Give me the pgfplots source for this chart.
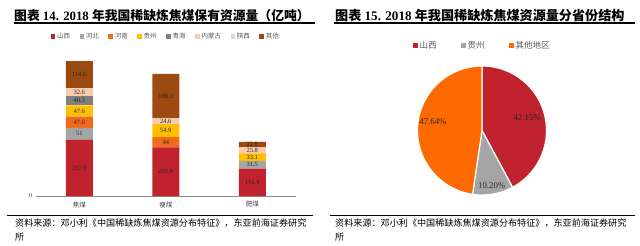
\documentclass[border=0pt]{standalone}
\usepackage{pgfplots}
\pgfplotsset{compat=1.18}
\usepackage{pgfplotstable}
\usepackage{fontspec}
\setmainfont{Liberation Serif}
\newfontfamily\cjk{Noto Sans CJK SC}

\definecolor{cSX}{HTML}{C0222E}
\definecolor{cHB}{HTML}{A5A5A5}
\definecolor{cHN}{HTML}{F26B1D}
\definecolor{cGZ}{HTML}{FFC000}
\definecolor{cQH}{HTML}{7F7F7F}
\definecolor{cNM}{HTML}{F8CBAD}
\definecolor{cSX2}{HTML}{D9D9D9}
\definecolor{cQT}{HTML}{9C4A10}
\definecolor{pSX}{HTML}{C0222E}
\definecolor{pGZ}{HTML}{A5A5A5}
\definecolor{pQT}{HTML}{FF6A00}

% columns: shanxi hebei henan guizhou qinghai neimenggu shaanxi other
\pgfplotstableread{
x sx hb hn gz qh nm sn qt
0 237.9 51 47.6 47.6 40.3 32.6 0 114.6
1 205.8 0 44 54.9 0 24.6 0 188.3
2 116.4 31.5 0 33.1 0 25.8 0 22.8
}\bardata
% label positions: middle of each stacked segment
\pgfplotstablecreatecol[create col/expr={\thisrow{sx}/2}]{msx}\bardata
\pgfplotstablecreatecol[create col/expr={\thisrow{sx}+\thisrow{hb}/2}]{mhb}\bardata
\pgfplotstablecreatecol[create col/expr={\thisrow{sx}+\thisrow{hb}+\thisrow{hn}/2}]{mhn}\bardata
\pgfplotstablecreatecol[create col/expr={\thisrow{sx}+\thisrow{hb}+\thisrow{hn}+\thisrow{gz}/2}]{mgz}\bardata
\pgfplotstablecreatecol[create col/expr={\thisrow{sx}+\thisrow{hb}+\thisrow{hn}+\thisrow{gz}+\thisrow{qh}/2}]{mqh}\bardata
\pgfplotstablecreatecol[create col/expr={\thisrow{sx}+\thisrow{hb}+\thisrow{hn}+\thisrow{gz}+\thisrow{qh}+\thisrow{nm}/2}]{mnm}\bardata
\pgfplotstablecreatecol[create col/expr={\thisrow{sx}+\thisrow{hb}+\thisrow{hn}+\thisrow{gz}+\thisrow{qh}+\thisrow{nm}+\thisrow{sn}/2}]{msn}\bardata
\pgfplotstablecreatecol[create col/expr={\thisrow{sx}+\thisrow{hb}+\thisrow{hn}+\thisrow{gz}+\thisrow{qh}+\thisrow{nm}+\thisrow{sn}+\thisrow{qt}/2}]{mqt}\bardata

\def\pSX{42.15}
\def\pGZ{10.20}
\def\pQT{47.64}

\begin{document}
\begin{tikzpicture}
\useasboundingbox (0,0) rectangle (640pt,-246pt);

% titles
\node[anchor=west,inner sep=0pt] at (14pt,-15.5pt) {\fontsize{12.8}{14}\selectfont\bfseries{\cjk\bfseries 图表} 14. 2018 {\cjk\bfseries 年我国稀缺炼焦煤保有资源量（亿吨）}};
\node[anchor=west,inner sep=0pt] at (335pt,-15.5pt) {\fontsize{13.1}{14}\selectfont\bfseries{\cjk\bfseries 图表} 15. 2018 {\cjk\bfseries 年我国稀缺炼焦煤资源量分省份结构}};
\draw[line width=1.4pt] (14pt,-23pt) -- (315pt,-23pt);
\draw[line width=1.4pt] (334pt,-23pt) -- (635pt,-23pt);

% bottom rules and sources
\draw[line width=1.4pt] (7pt,-215.5pt) -- (313pt,-215.5pt);
\draw[line width=1.4pt] (330pt,-215.5pt) -- (635pt,-215.5pt);
\node[anchor=west,inner sep=0pt] at (15pt,-223.5pt) {\cjk\fontsize{9.1}{10}\selectfont 资料来源：邓小利《中国稀缺炼焦煤资源分布特征》，东亚前海证券研究};
\node[anchor=west,inner sep=0pt] at (15pt,-237pt) {\cjk\fontsize{9.1}{10}\selectfont 所};
\node[anchor=west,inner sep=0pt] at (335pt,-223.5pt) {\cjk\fontsize{9.1}{10}\selectfont 资料来源：邓小利《中国稀缺炼焦煤资源分布特征》，东亚前海证券研究};
\node[anchor=west,inner sep=0pt] at (335pt,-237pt) {\cjk\fontsize{9.1}{10}\selectfont 所};

% ---------------- bar chart ----------------
\begin{axis}[
  at={(36pt,-196pt)}, anchor=south west,
  scale only axis, width=259.5pt, height=145pt,
  xmin=-0.5, xmax=2.5, ymin=0, ymax=614,
  ybar stacked, bar width=27pt,
  axis x line*=bottom, axis y line*=left,
  y axis line style={draw=none},
  x axis line style={draw=black!45, line width=0.6pt},
  xtick={0,1,2}, xticklabels={焦煤,瘦煤,肥煤},
  ytick={0}, major tick length=0pt,
  xticklabel style={font=\cjk\fontsize{6.5}{7}\selectfont, text=black!75, yshift=-2pt},
  yticklabel style={font=\fontsize{6.5}{7}\selectfont, text=black!75},
  every axis plot post/.append style={
    legend image code/.code={\fill[##1,draw=none] (0pt,-2.2pt) rectangle (4.4pt,2.2pt);}},
  legend style={at={(0.5,1)}, anchor=south, yshift=9pt, draw=none, fill=none,
    font=\cjk\fontsize{6.5}{7}\selectfont, text=black!65, inner sep=0pt,
    /tikz/every even column/.append style={column sep=7.5pt}},
  legend columns=-1,
]
\addplot[fill=cSX, draw=none] table[x=x,y=sx] {\bardata};
\addlegendentry{山西}
\addplot[fill=cHB, draw=none] table[x=x,y=hb] {\bardata};
\addlegendentry{河北}
\addplot[fill=cHN, draw=none] table[x=x,y=hn] {\bardata};
\addlegendentry{河南}
\addplot[fill=cGZ, draw=none] table[x=x,y=gz] {\bardata};
\addlegendentry{贵州}
\addplot[fill=cQH, draw=none] table[x=x,y=qh] {\bardata};
\addlegendentry{青海}
\addplot[fill=cNM, draw=none] table[x=x,y=nm] {\bardata};
\addlegendentry{内蒙古}
\addplot[fill=cSX2, draw=none] table[x=x,y=sn] {\bardata};
\addlegendentry{陕西}
\addplot[fill=cQT, draw=none] table[x=x,y=qt] {\bardata};
\addlegendentry{其他}
\end{axis}

% value labels, centred in each segment
\begin{axis}[
  at={(36pt,-196pt)}, anchor=south west,
  scale only axis, width=259.5pt, height=145pt,
  xmin=-0.5, xmax=2.5, ymin=0, ymax=614, hide axis,
  nodes near coords, point meta=explicit symbolic,
  every node near coord/.append style={anchor=center, font=\fontsize{6.5}{7}\selectfont, text=black!85},
  lab/.style={draw=none, mark=none, restrict expr to domain={\thisrow{#1}}{0.001:100000}},
]
\addplot[lab=sx] table[x=x,y=msx,meta=sx] {\bardata};
\addplot[lab=hb] table[x=x,y=mhb,meta=hb] {\bardata};
\addplot[lab=hn] table[x=x,y=mhn,meta=hn] {\bardata};
\addplot[lab=gz] table[x=x,y=mgz,meta=gz] {\bardata};
\addplot[lab=qh] table[x=x,y=mqh,meta=qh] {\bardata};
\addplot[lab=nm] table[x=x,y=mnm,meta=nm] {\bardata};
\addplot[lab=sn] table[x=x,y=msn,meta=sn] {\bardata};
\addplot[lab=qt] table[x=x,y=mqt,meta=qt] {\bardata};
\end{axis}

% ---------------- pie chart ----------------
\pgfmathsetmacro\aA{90}
\pgfmathsetmacro\aB{90-3.6*\pSX}
\pgfmathsetmacro\aC{\aB-3.6*\pGZ}
\pgfmathsetmacro\aD{90-360}
\begin{axis}[
  at={(482pt,-130.5pt)}, anchor=center,
  scale only axis, width=129pt, height=129pt,
  xmin=-1, xmax=1, ymin=-1, ymax=1, hide axis, clip=false,
  legend image code/.code={\fill[#1,draw=none] (0pt,-2.5pt) rectangle (5pt,2.5pt);},
  legend style={at={(0.5,1)}, anchor=south, yshift=14pt, draw=none, fill=none,
    font=\cjk\fontsize{8.5}{9}\selectfont, text=black!65, inner sep=0pt,
    /tikz/every even column/.append style={column sep=22pt}},
  legend columns=-1,
]
\addplot[fill=pSX, draw=white, line width=1.2pt, domain=\aA:\aB, samples=80] ({cos(x)},{sin(x)}) -- (0,0) -- cycle;
\addlegendentry{山西}
\addplot[fill=pGZ, draw=white, line width=1.2pt, domain=\aB:\aC, samples=30] ({cos(x)},{sin(x)}) -- (0,0) -- cycle;
\addlegendentry{贵州}
\addplot[fill=pQT, draw=white, line width=1.2pt, domain=\aC:\aD, samples=90] ({cos(x)},{sin(x)}) -- (0,0) -- cycle;
\addlegendentry{其他地区}
\node[font=\fontsize{8.8}{10}\selectfont, text=black!85] at (0.70,0.20) {42.15\%};
\node[font=\fontsize{8.8}{10}\selectfont, text=black!85] at (-0.76,0.13) {47.64\%};
\node[font=\fontsize{8.8}{10}\selectfont, text=black!85] at (0.15,-0.86) {10.20\%};
\end{axis}
\end{tikzpicture}
\end{document}
